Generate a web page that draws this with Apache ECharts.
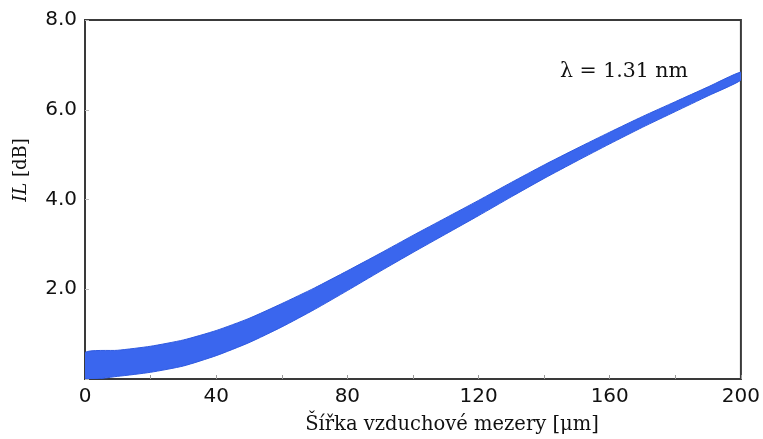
<!DOCTYPE html>
<html>
<head>
<meta charset="utf-8">
<script src="https://cdn.jsdelivr.net/npm/echarts@6/dist/echarts.min.js"></script>
<style>html,body{margin:0;padding:0;background:#fff}#c{width:763px;height:439px}</style>
</head>
<body>
<div id="c"></div>
<script>
// Air-gap width [µm]
var gapWidth = [0, 10, 20, 30, 40, 50, 60, 70, 80, 90, 100, 110, 120, 130, 140, 150, 160, 170, 180, 190, 200];
// Lower and upper edge of the noisy IL band [dB]
var ilLower = [0.01, 0.06, 0.15, 0.29, 0.52, 0.81, 1.16, 1.55, 1.97, 2.40, 2.82, 3.23, 3.64, 4.06, 4.47, 4.86, 5.24, 5.61, 5.96, 6.31, 6.66];
var ilUpper = [0.59, 0.64, 0.73, 0.87, 1.08, 1.35, 1.68, 2.03, 2.41, 2.80, 3.20, 3.59, 3.98, 4.38, 4.77, 5.14, 5.50, 5.85, 6.18, 6.51, 6.84];
var yTicks = [0, 2, 4, 6, 8];
var xLabelStep = 40;
var annotation = 'λ = 1.31 nm';
var xTitle = 'Šířka vzduchové mezery [μm]';

var bandRows = gapWidth.map(function (x, i) { return [x, ilLower[i], ilUpper[i]]; });

var chart = echarts.init(document.getElementById('c'), null, {renderer: 'canvas'});
var serif = '"DejaVu Serif", "Liberation Serif", serif';
var sans = '"DejaVu Sans", sans-serif';

function renderBand(params, api) {
  if (params.dataIndex !== 0) return null;
  var top = [], bottom = [];
  for (var i = 0; i < bandRows.length; i++) {
    top.push(api.coord([bandRows[i][0], bandRows[i][2]]));
    bottom.push(api.coord([bandRows[i][0], bandRows[i][1]]));
  }
  var pts = top.concat(bottom.reverse());
  var cs = params.coordSys;
  return {
    type: 'polygon',
    shape: {points: pts, smooth: 0.2},
    clipPath: {type: 'rect', shape: {x: cs.x, y: cs.y, width: cs.width, height: cs.height}},
    style: {fill: '#3a66ee', stroke: '#2f5ae0', lineWidth: 1}
  };
}

chart.setOption({
  animation: false,
  backgroundColor: '#fff',
  grid: {left: 85, right: 20, top: 20, bottom: 60, show: true, borderColor: '#3a3a3a', borderWidth: 2, backgroundColor: 'transparent'},
  xAxis: {
    type: 'value', min: 0, max: 200, interval: 20,
    axisLine: {show: true, lineStyle: {color: '#3a3a3a', width: 2}},
    axisTick: {show: true, inside: true, length: 4, lineStyle: {color: '#999', width: 1}},
    axisLabel: {fontFamily: sans, fontSize: 20, color: '#111', margin: 8,
      formatter: function (v) { return v % xLabelStep === 0 ? String(v) : ''; }},
    splitLine: {show: false}
  },
  yAxis: {
    type: 'value', min: yTicks[0], max: yTicks[yTicks.length - 1], interval: 2,
    axisLine: {show: true, lineStyle: {color: '#3a3a3a', width: 2}},
    axisTick: {show: true, inside: true, length: 4, lineStyle: {color: '#bbb', width: 1}},
    axisLabel: {fontFamily: sans, fontSize: 20, color: '#111', margin: 8,
      formatter: function (v) { return v === 0 ? '' : v.toFixed(1); }},
    splitLine: {show: false}
  },
  graphic: [
    {type: 'text', x: 21, y: 170, rotation: Math.PI / 2,
      style: {text: '{i|IL} [dB]', textAlign: 'center', textVerticalAlign: 'middle',
        rich: {i: {fontFamily: serif, fontStyle: 'italic', fontSize: 18, fill: '#111'}},
        font: '18px ' + serif, fill: '#111'}},
    {type: 'text', x: 452, y: 425,
      style: {text: xTitle, textAlign: 'center', textVerticalAlign: 'middle', font: '19.5px ' + serif, fill: '#111'}},
    {type: 'text', x: 624, y: 72,
      style: {text: annotation, textAlign: 'center', textVerticalAlign: 'middle', font: '20.5px ' + serif, fill: '#111'}}
  ],
  series: [
    {type: 'custom', data: bandRows, renderItem: renderBand, silent: true, encode: {x: 0, y: [1, 2]}}
  ]
});
</script>
</body>
</html>
